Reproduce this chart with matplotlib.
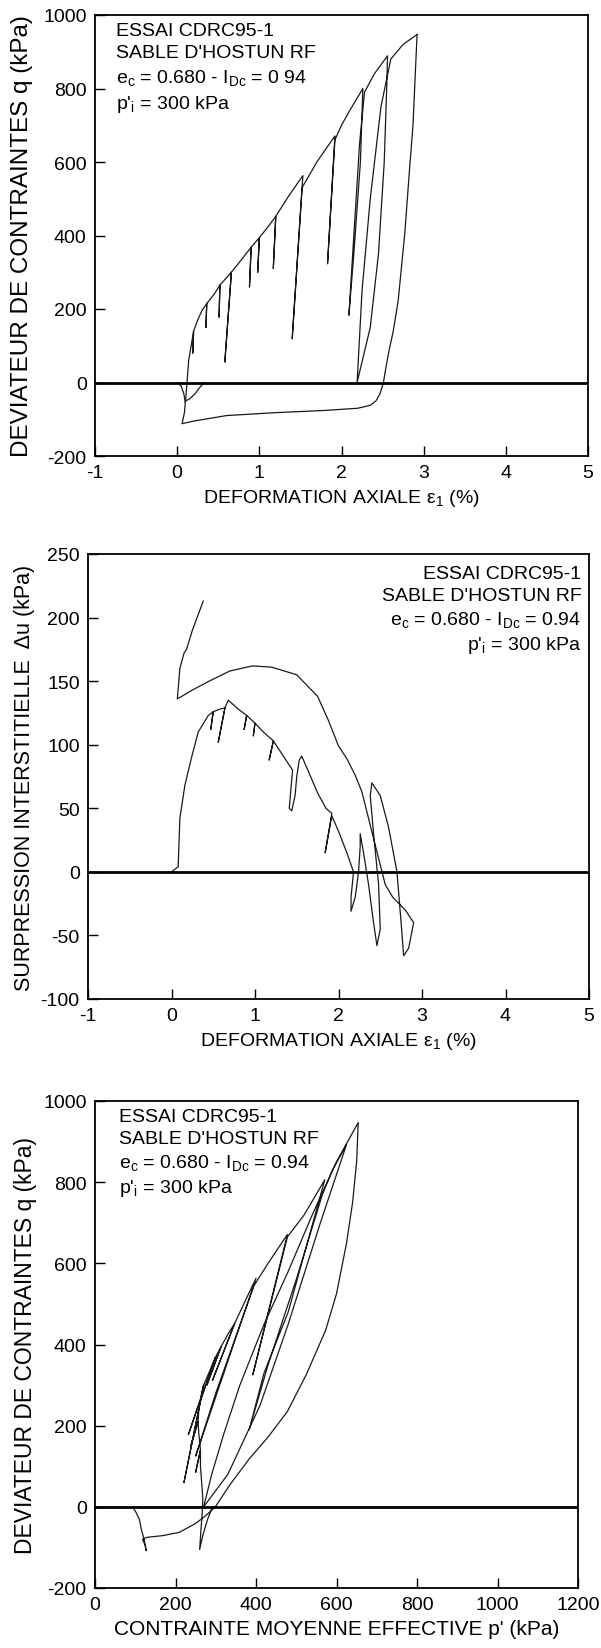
import matplotlib
matplotlib.use("Agg")
import numpy as np
import matplotlib.pyplot as plt

plt.rcParams['font.family'] = ['Liberation Sans', 'DejaVu Sans']
plt.rcParams['mathtext.fontset'] = 'custom'
plt.rcParams['mathtext.rm'] = 'Liberation Sans'
plt.rcParams['axes.unicode_minus'] = False

# ---- panel 1 : q vs axial strain ----
eps_load = [0.0, 0.05, 0.08, 0.10, 0.12, 0.14, 0.17, 0.20, 0.19, 0.20, 0.25, 0.30, 0.36, 0.35, 0.36,
            0.45, 0.52, 0.51, 0.52, 0.60, 0.66, 0.58, 0.66, 0.75, 0.90, 0.88, 0.90, 1.00, 0.98, 1.00,
            1.10, 1.20, 1.17, 1.20, 1.35, 1.53, 1.40, 1.52, 1.70, 1.92, 1.83, 1.92, 2.00, 2.10, 2.26,
            2.23, 2.15, 2.09, 2.15, 2.22, 2.28, 2.40, 2.56, 2.55, 2.52, 2.45, 2.35, 2.19, 2.25, 2.35,
            2.48, 2.60, 2.75, 2.92]
q_load = [0, -10, -30, -55, 0, 60, 100, 140, 80, 140, 170, 195, 215, 150, 215,
          240, 265, 178, 265, 285, 300, 56, 300, 325, 368, 260, 368, 394, 300, 394,
          422, 452, 310, 452, 505, 563, 119, 530, 600, 671, 323, 660, 700, 740, 800,
          600, 350, 183, 400, 650, 790, 840, 889, 800, 600, 350, 150, 0, 250, 500,
          750, 880, 920, 947]
eps_unload = [2.92, 2.90, 2.87, 2.83, 2.77, 2.69, 2.63, 2.58, 2.54, 2.51, 2.47, 2.42, 2.35, 2.20,
              1.80, 1.20, 0.60, 0.20, 0.06, 0.09, 0.10, 0.15, 0.22, 0.28, 0.33]
q_unload = [947, 850, 700, 586, 405, 223, 140, 88, 40, 0, -30, -50, -62, -70,
            -76, -82, -90, -105, -112, -80, -50, -45, -30, -12, 0]

# ---- panel 2 : excess pore pressure vs axial strain ----
eps_du = [0.0, 0.08, 0.10, 0.16, 0.24, 0.32, 0.44, 0.50, 0.47, 0.50, 0.58, 0.64, 0.56, 0.64, 0.68,
          0.80, 0.90, 0.87, 0.90, 1.00, 0.98, 1.00, 1.10, 1.22, 1.17, 1.22, 1.35, 1.45, 1.43, 1.41,
          1.44, 1.48, 1.50, 1.53, 1.56, 1.62, 1.75, 1.85, 1.92, 1.84, 1.92, 2.00, 2.10, 2.18, 2.15,
          2.15, 2.20, 2.24, 2.26, 2.26, 2.30, 2.36, 2.42, 2.46, 2.50, 2.48, 2.42, 2.38, 2.40, 2.50,
          2.60, 2.70, 2.75, 2.78, 2.84, 2.90, 2.80, 2.65, 2.56, 2.44, 2.36, 2.28, 2.20, 2.10, 2.00,
          1.88, 1.75, 1.50, 1.20, 0.97, 0.70, 0.45, 0.25, 0.07, 0.10, 0.15, 0.18, 0.25, 0.38]
du = [0, 4, 42, 68, 90, 110, 123, 126, 112, 126, 128, 129, 102, 129, 135,
      128, 123, 112, 123, 117, 107, 117, 110, 103, 88, 103, 90, 80, 65, 50,
      48, 60, 75, 88, 91, 82, 62, 50, 46, 15, 44, 32, 15, 0, -20,
      -31, -20, 0, 20, 30, 15, -10, -40, -58, -45, -10, 30, 60, 70, 60,
      35, 0, -40, -66, -60, -40, -30, -20, -10, 21, 42, 63, 76, 89, 99,
      119, 138, 155, 161, 162, 158, 150, 143, 136, 160, 172, 175, 190, 213]

# ---- panel 3 : q vs mean effective stress ----
p_path = [292, 280, 268, 260, 263, 266, 268, 265, 262, 262, 250, 262, 258, 256, 238, 256, 258, 262,
          232, 262, 266, 270, 221, 270, 285, 299, 262, 299, 313, 278, 313, 330, 347, 292, 347, 372,
          400, 250, 300, 350, 395, 430, 478, 392, 478, 520, 571, 480, 420, 383, 430, 500, 565, 590,
          625, 560, 480, 410, 330, 270, 290, 320, 360, 420, 480, 540, 600, 654, 650, 640, 625, 600,
          573, 525, 478, 430, 383, 335, 299, 275, 250, 209, 168, 130, 118, 125, 127, 122, 115, 110,
          100, 93]
q_path = [0, -30, -70, -105, -60, -20, 20, 60, 100, 140, 85, 140, 180, 210, 150, 210, 240, 265,
          178, 265, 285, 300, 60, 300, 335, 368, 262, 368, 394, 300, 394, 425, 452, 312, 452, 505,
          563, 125, 280, 420, 545, 600, 671, 325, 665, 720, 806, 480, 330, 190, 350, 560, 770, 830,
          893, 700, 450, 250, 80, 0, 80, 180, 300, 450, 580, 720, 850, 947, 850, 750, 650, 525,
          435, 326, 235, 172, 118, 54, 0, -22, -41, -63, -71, -75, -80, -95, -108, -80, -55, -30,
          -10, 0]

note = ["ESSAI CDRC95-1", "SABLE D'HOSTUN RF"]
LINE = '#1a1a1a'


def style(ax, xlim, ylim, xticks, yticks):
    ax.set_xlim(*xlim)
    ax.set_ylim(*ylim)
    ax.set_xticks(xticks)
    ax.set_yticks(yticks)
    ax.tick_params(direction='in', length=7, width=1.0, labelsize=14, pad=6)
    for s in ax.spines.values():
        s.set_linewidth(1.3)
    ax.axhline(0, color='black', lw=2.0, zorder=3)


W, H = 601, 1649
fig = plt.figure(figsize=(W / 100, H / 100), dpi=100)

# panel 1
ax1 = fig.add_axes([95 / W, 1 - 457 / H, 493 / W, 441 / H])
ax1.plot(eps_load, q_load, color=LINE, lw=0.9)
ax1.plot(eps_unload, q_unload, color=LINE, lw=0.9)
style(ax1, (-1, 5), (-200, 1000), range(-1, 6), range(-200, 1001, 200))
ax1.set_xlabel(r"DEFORMATION AXIALE $\mathregular{\varepsilon_1}$ (%)", fontsize=14, labelpad=4)
ax1.set_ylabel("DEVIATEUR DE CONTRAINTES q (kPa)", fontsize=17.5)
ax1.yaxis.set_label_coords(-0.125, 0.5)
txt1 = "\n".join(note + [r"e$\mathregular{_c}$ = 0.680 - I$\mathregular{_{Dc}}$ = 0 94",
                         r"p'$\mathregular{_i}$ = 300 kPa"])
ax1.text(0.043, 0.985, txt1, transform=ax1.transAxes, ha='left', va='top',
         fontsize=14, linespacing=1.4)

# panel 2
ax2 = fig.add_axes([88 / W, 1 - 1000 / H, 501 / W, 445 / H])
ax2.plot(eps_du, du, color=LINE, lw=0.9)
style(ax2, (-1, 5), (-100, 250), range(-1, 6), range(-100, 251, 50))
ax2.set_xlabel(r"DEFORMATION AXIALE $\mathregular{\varepsilon_1}$ (%)", fontsize=14, labelpad=4)
ax2.set_ylabel("SURPRESSION INTERSTITIELLE  Δu (kPa)", fontsize=15.5)
ax2.yaxis.set_label_coords(-0.105, 0.5)
txt2 = "\n".join(note + [r"e$\mathregular{_c}$ = 0.680 - I$\mathregular{_{Dc}}$ = 0.94",
                         r"p'$\mathregular{_i}$ = 300 kPa"])
ax2.text(0.985, 0.975, txt2, transform=ax2.transAxes, ha='right', va='top',
         fontsize=14, linespacing=1.35, multialignment='right')

# panel 3
ax3 = fig.add_axes([95 / W, 1 - 1589 / H, 483 / W, 487 / H])
ax3.plot(p_path, q_path, color=LINE, lw=0.9)
style(ax3, (0, 1200), (-200, 1000), range(0, 1201, 200), range(-200, 1001, 200))
ax3.set_xlabel("CONTRAINTE MOYENNE EFFECTIVE p' (kPa)", fontsize=15, labelpad=4)
ax3.set_ylabel("DEVIATEUR DE CONTRAINTES q (kPa)", fontsize=16.5)
ax3.yaxis.set_label_coords(-0.12, 0.5)
txt3 = "\n".join(note + [r"e$\mathregular{_c}$ = 0.680 - I$\mathregular{_{Dc}}$ = 0.94",
                         r"p'$\mathregular{_i}$ = 300 kPa"])
ax3.text(0.05, 0.985, txt3, transform=ax3.transAxes, ha='left', va='top',
         fontsize=14, linespacing=1.35)

fig.savefig("out.png", dpi=100)
